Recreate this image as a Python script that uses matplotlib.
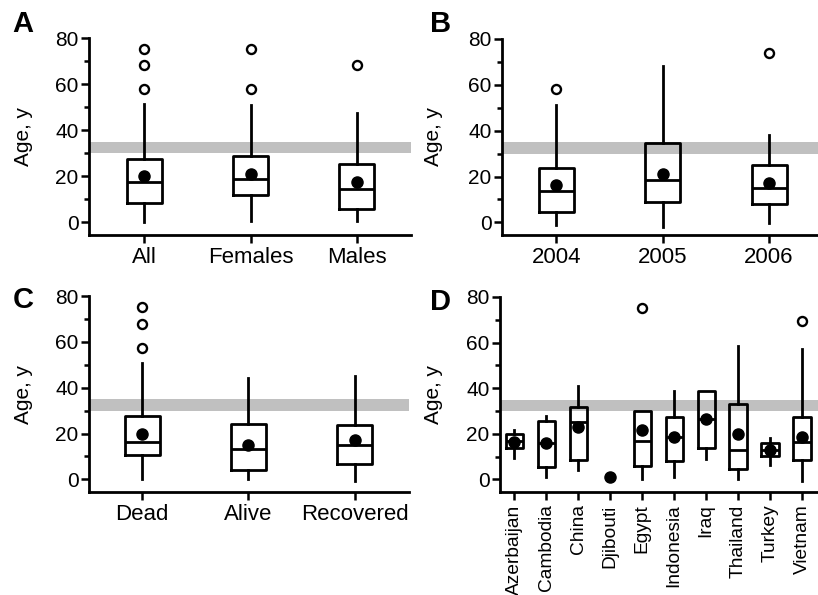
import matplotlib
matplotlib.use("Agg")
import matplotlib.pyplot as plt

plt.rcParams['font.family'] = ['Liberation Sans', 'DejaVu Sans']

# ---------------- data ----------------
a_labels = ["All", "Females", "Males"]
a_q1 = [8.5, 11.7, 5.7]
a_med = [17.7, 18.6, 14.6]
a_q3 = [27.5, 28.8, 25.1]
a_lo = [0, 0.7, 0.4]
a_hi = [51.2, 51.0, 47.5]
a_mean = [20.0, 21.0, 17.5]
a_fliers = [[75.3, 68.4, 57.7], [75.3, 57.7], [68.4]]

b_labels = ["2004", "2005", "2006"]
b_q1 = [4.7, 8.8, 8.2]
b_med = [13.5, 18.6, 14.9]
b_q3 = [23.7, 34.6, 25.0]
b_lo = [-1.2, -2.2, -0.4]
b_hi = [51.2, 68.4, 38.0]
b_mean = [16.1, 21.0, 17.4]
b_fliers = [[58.0], [], [73.8]]

c_labels = ["Dead", "Alive", "Recovered"]
c_q1 = [10.6, 4.2, 6.9]
c_med = [16.5, 13.3, 14.8]
c_q3 = [27.5, 24.0, 23.7]
c_lo = [0, 0, -0.6]
c_hi = [50.6, 44.3, 44.9]
c_mean = [20.0, 14.8, 17.1]
c_fliers = [[75.0, 68.0, 57.3], [], []]

d_labels = ["Azerbaijan", "Cambodia", "China", "Djibouti", "Egypt",
            "Indonesia", "Iraq", "Thailand", "Turkey", "Vietnam"]
d_q1 = [13.6, 5.5, 8.5, None, 6.0, 8.2, 13.6, 4.5, 10.4, 8.5]
d_med = [17.0, 15.8, 25.0, None, 16.9, 18.7, 26.6, 12.8, 13.1, 16.5]
d_q3 = [19.9, 25.5, 31.8, None, 30.0, 27.4, 38.7, 33.0, 16.2, 27.4]
d_lo = [9.5, 1.2, 4.1, None, 0.4, 0.9, 8.8, 0.4, 6.3, -0.7]
d_hi = [21.6, 27.7, 41.0, None, 30.0, 38.7, 38.7, 58.5, 18.0, 57.0]
d_mean = [16.5, 15.8, 23.0, 1.2, 21.9, 18.7, 26.6, 20.1, 13.1, 18.7]
d_fliers = [[], [], [], [], [75.3], [], [], [], [], [69.5]]

band_lo, band_hi = 30, 35
yticks_major = [0, 20, 40, 60, 80]
yticks_minor = [10, 30, 50, 70]

# ---------------- layout ----------------
W, H = 818, 595
fig = plt.figure(figsize=(W / 100, H / 100), dpi=100)


def add_axes(l, t, r, b):
    return fig.add_axes([l / W, 1 - b / H, (r - l) / W, (b - t) / H])


LW = 2.0


def panel(ax, labels, q1, med, q3, lo, hi, mean, fliers, xlim, width,
          rotate=False):
    pos = list(range(1, len(labels) + 1))
    stats, bpos = [], []
    for i in range(len(labels)):
        if q1[i] is None:
            continue
        stats.append(dict(q1=q1[i], med=med[i], q3=q3[i], whislo=lo[i],
                          whishi=hi[i], fliers=fliers[i]))
        bpos.append(pos[i])
    ax.axhspan(band_lo, band_hi, color='#c0c0c0', lw=0, zorder=0)
    ax.bxp(stats, positions=bpos, widths=width, showcaps=False,
           boxprops=dict(color='black', lw=LW),
           whiskerprops=dict(color='black', lw=LW),
           medianprops=dict(color='black', lw=LW),
           flierprops=dict(marker='o', markerfacecolor='white',
                           markeredgecolor='black', markersize=6.5,
                           markeredgewidth=1.7),
           manage_ticks=False, zorder=2)
    ax.plot(pos, mean, 'o', color='black', markersize=8, zorder=4,
            linestyle='none')
    ax.set_xlim(*xlim)
    ax.set_ylim(-5.5, 80)
    ax.set_xticks(pos)
    if rotate:
        ax.set_xticklabels(labels, rotation=90, fontsize=13.8)
    else:
        ax.set_xticklabels(labels, fontsize=16)
    ax.set_yticks(yticks_major)
    ax.set_yticks(yticks_minor, minor=True)
    ax.tick_params(axis='y', labelsize=15, width=1.8, length=6, pad=1.5,
                   direction='out')
    ax.tick_params(axis='y', which='minor', width=1.8, length=3.5)
    ax.tick_params(axis='x', width=1.8, length=6, pad=3)
    for s in ['top', 'right']:
        ax.spines[s].set_visible(False)
    for s in ['left', 'bottom']:
        ax.spines[s].set_linewidth(2.0)
    ax.spines['left'].set_bounds(-5.5, 80)
    ax.set_ylabel("Age, y", fontsize=15)


axA = add_axes(89, 38, 411, 235)
panel(axA, a_labels, a_q1, a_med, a_q3, a_lo, a_hi, a_mean, a_fliers,
      (0.48, 3.51), 0.33)
axB = add_axes(502, 39, 818, 235)
panel(axB, b_labels, b_q1, b_med, b_q3, b_lo, b_hi, b_mean, b_fliers,
      (0.49, 3.46), 0.33)
axC = add_axes(89, 296, 409, 492)
panel(axC, c_labels, c_q1, c_med, c_q3, c_lo, c_hi, c_mean, c_fliers,
      (0.50, 3.51), 0.33)
axD = add_axes(500, 297, 818, 492)
panel(axD, d_labels, d_q1, d_med, d_q3, d_lo, d_hi, d_mean, d_fliers,
      (0.55, 10.5), 0.54, rotate=True)

for ax, px in [(axA, 33), (axB, 443), (axC, 33), (axD, 443)]:
    bb = ax.get_position()
    x_ax = (px / W - bb.x0) / bb.width
    ax.yaxis.set_label_coords(x_ax, 0.5)

for letter, x, y in [("A", 23, 24), ("B", 441, 24), ("C", 23, 300),
                     ("D", 441, 302)]:
    fig.text(x / W, 1 - y / H, letter, fontsize=21, fontweight='bold',
             ha='center', va='center')

fig.savefig("out.png", dpi=100)
